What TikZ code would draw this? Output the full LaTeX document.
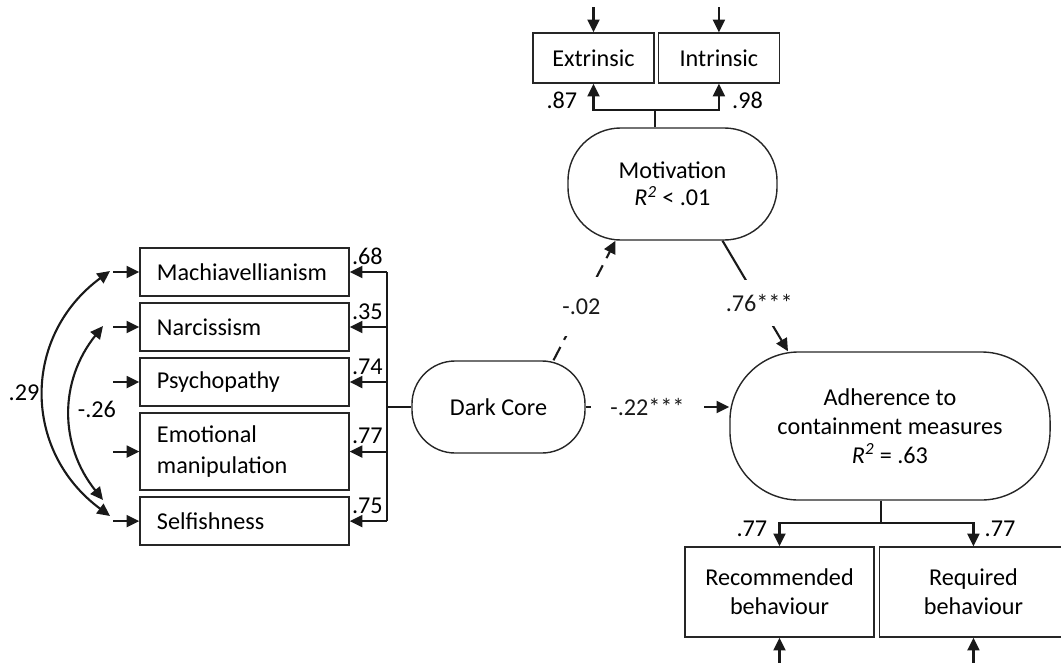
\documentclass[tikz,border=0pt]{standalone}
\usepackage{fontspec}
\setmainfont{Carlito}
\usetikzlibrary{positioning, arrows.meta, calc}

\begin{document}
\begin{tikzpicture}[
    x=0.025cm, y=-0.025cm,
    font=\fontsize{17.2}{20.5}\selectfont,
    obsbox/.style={
        rectangle,
        draw=black!85,
        line width=1pt,
        inner sep=0pt,
        align=center
    },
    traitbox/.style={
        obsbox,
        minimum height=1.2cm,
        text width=4.375cm,
        inner xsep=0.425cm,
        align=left
    },
    latent/.style={
        rectangle,
        draw=black!85,
        line width=1pt,
        inner sep=0pt,
        align=center
    },
    coef/.style={inner sep=0pt},
    pathlabel/.style={fill=white, inner sep=2pt},
    plainline/.style={line width=1.5pt, black!90},
    arrowline/.style={plainline, -{Triangle[length=9pt,width=8.5pt]}},
    corrline/.style={plainline, {Triangle[length=9pt,width=8.5pt]}-{Triangle[length=9pt,width=8.5pt]}}
]
    \clip (0,0) rectangle (1061,665);

    % Dark traits
    \node[traitbox] (mach) at (244.5,272) {Machiavellianism};
    \node[traitbox, below=0.14cm of mach] (narc) {Narcissism};
    \node[traitbox, below=0.14cm of narc] (psych) {Psychopathy};
    \node[traitbox, below=0.14cm of psych, minimum height=1.925cm] (emot) {Emotional\\[2pt]manipulation};
    \node[traitbox, below=0.14cm of emot] (self) {Selfishness};

    % Latent variables
    \node[latent, minimum width=4.325cm, minimum height=2.3cm, rounded corners=1.08cm] (dark) at (498.5,407) {Dark Core};
    \node[latent, minimum width=5.225cm, minimum height=2.8cm, rounded corners=1.32cm] (motiv) at (672.5,184) {Motivation\\[-1pt]\textit{R\textsuperscript{2}} < .01};
    \node[latent, minimum width=8cm, minimum height=3.7cm, rounded corners=1.72cm] (adher) at (890,426) {Adherence to\\containment measures\\\textit{R\textsuperscript{2}} = .63};

    % Indicators
    \node[obsbox, minimum width=3.025cm, minimum height=1.25cm] (extr) at (593.5,58) {Extrinsic};
    \node[obsbox, minimum width=3.025cm, minimum height=1.25cm, right=0.075cm of extr] (intr) {Intrinsic};
    \node[obsbox, minimum width=4.725cm, minimum height=2.25cm] (rec) at (779.5,592) {Recommended\\behaviour};
    \node[obsbox, minimum width=4.7cm, minimum height=2.25cm, right=0.1cm of rec] (req) {Required\\behaviour};

    % Junctions and error terms
    \coordinate (bus) at (387,407);
    \coordinate (mjoin) at (655,110);
    \coordinate (ajoin) at (881,523);
    \coordinate (emach) at ($(mach.west)+(-26,0)$);
    \coordinate (enarc) at ($(narc.west)+(-26,0)$);
    \coordinate (epsych) at ($(psych.west)+(-26,0)$);
    \coordinate (eemot) at ($(emot.west)+(-26,0)$);
    \coordinate (eself) at ($(self.west)+(-26,0)$);
    \coordinate (eextr) at ($(extr.north)+(0,-25)$);
    \coordinate (eintr) at ($(intr.north)+(0,-25)$);
    \coordinate (erec) at ($(rec.south)+(0,25)$);
    \coordinate (ereq) at ($(req.south)+(0,25)$);
    \coordinate (c29a) at (110,271);
    \coordinate (c29b) at (110,516);
    \coordinate (c26a) at (103,326);
    \coordinate (c26b) at (103,500);

    % Dark Core loadings
    \draw[plainline] (dark.west) -- (bus);
    \draw[plainline] (bus |- mach.east) -- (bus |- self.east);
    \draw[arrowline] (bus |- mach.east) -- (mach.east);
    \draw[arrowline] (bus |- narc.east) -- (narc.east);
    \draw[arrowline] (bus |- psych.east) -- (psych.east);
    \draw[arrowline] (bus |- emot.east) -- (emot.east);
    \draw[arrowline] (bus |- self.east) -- (self.east);
    \node[coef, anchor=base west] (l68) at ($(mach.east)+(2,-8)$) {.68};
    \node[coef, anchor=base west] (l35) at ($(narc.east)+(2,-8)$) {.35};
    \node[coef, anchor=base west] (l74) at ($(psych.east)+(2,-8)$) {.74};
    \node[coef, anchor=base west] (l77a) at ($(emot.east)+(2,-8)$) {.77};
    \node[coef, anchor=base west] (l75) at ($(self.east)+(2,-8)$) {.75};

    % Residuals and correlations
    \draw[arrowline] (emach) -- (mach.west);
    \draw[arrowline] (enarc) -- (narc.west);
    \draw[arrowline] (epsych) -- (psych.west);
    \draw[arrowline] (eemot) -- (emot.west);
    \draw[arrowline] (eself) -- (self.west);
    \draw[corrline] (c29a) .. controls +(-88,65) and +(-88,-65) .. (c29b);
    \draw[corrline] (c26a) .. controls +(-44,55) and +(-44,-55) .. (c26b);
    \node[coef] (r29) at (24,393) {.29};
    \node[coef] (r26) at (97,409) {-.26};

    % Motivation loadings
    \draw[plainline] (motiv.north -| mjoin) -- (mjoin);
    \draw[arrowline] (mjoin) -| (extr.south);
    \draw[arrowline] (mjoin) -| (intr.south);
    \draw[arrowline] (eextr) -- (extr.north);
    \draw[arrowline] (eintr) -- (intr.north);
    \node[coef, anchor=base east] (l87) at ($(extr.south)+(-16,25)$) {.87};
    \node[coef, anchor=base west] (l98) at ($(intr.south)+(13,25)$) {.98};

    % Adherence loadings
    \draw[plainline] (adher.south -| ajoin) -- (ajoin);
    \draw[arrowline] (ajoin) -| (rec.north);
    \draw[arrowline] (ajoin) -| (req.north);
    \draw[arrowline] (erec) -- (rec.south);
    \draw[arrowline] (ereq) -- (req.south);
    \node[coef, anchor=base east] (l77b) at ($(rec.north)+(-12,-10)$) {.77};
    \node[coef, anchor=base west] (l77c) at ($(req.north)+(11,-10)$) {.77};

    % Structural paths
    \draw[arrowline, dash pattern=on 0.375cm off 0.2cm] ($(dark.north)+(55,0)$) -- node[pathlabel, pos=0.45, inner ysep=0.54cm] (l02) {-.02} ($(motiv.south)+(-57,0)$);
    \draw[arrowline] ($(motiv.south)+(50,0)$) -- node[pathlabel, pos=0.56, inner ysep=0.36cm] (l76) {.76***} ($(adher.north)+(-102,0)$);
    \draw[arrowline] (dark.east) -- node[pathlabel, pos=0.43, inner xsep=0.48cm] (l22) {-.22***} (dark.east -| adher.west);
\end{tikzpicture}
\end{document}
